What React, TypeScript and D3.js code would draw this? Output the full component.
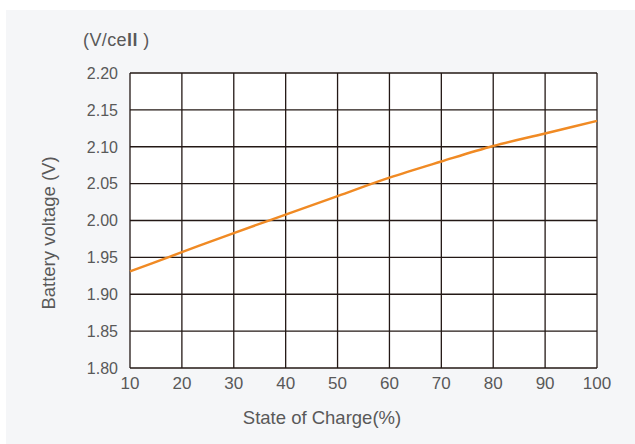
import React from "react";
import * as d3 from "d3";

const soc = [10, 20, 30, 40, 50, 60, 70, 80, 90, 100];
const voltage = [1.931, 1.957, 1.983, 2.008, 2.033, 2.058, 2.080, 2.101, 2.118, 2.135];
const xTicks = [10, 20, 30, 40, 50, 60, 70, 80, 90, 100];
const yTicks = [1.8, 1.85, 1.9, 1.95, 2.0, 2.05, 2.1, 2.15, 2.2];

const W = 635;
const H = 444;
const left = 130, right = 597, top = 73, bottom = 368;

export default function App() {
  const x = d3.scaleLinear().domain([10, 100]).range([left, right]);
  const y = d3.scaleLinear().domain([1.8, 2.2]).range([bottom, top]);
  const line = d3
    .line<number>()
    .x((_, i) => x(soc[i]))
    .y((d) => y(d))
    .curve(d3.curveMonotoneX);
  const font = "Arial, 'Liberation Sans', Helvetica, sans-serif";
  const grid = "#231815";
  const txt = "#595959";
  return (
    <div style={{ position: "absolute", left: 0, top: 0, width: W, height: H, background: "#fff" }}>
      <svg width={W} height={H} style={{ display: "block" }} fontFamily={font}>
        <rect x={6} y={10} width={W - 6} height={H - 10} fill="#f5f6f8" />
        <rect x={left} y={top} width={right - left} height={bottom - top} fill="#fff" />
        {xTicks.map((t) => (
          <line key={"gx" + t} x1={x(t)} x2={x(t)} y1={top} y2={bottom} stroke={grid} strokeWidth={1.3} />
        ))}
        {yTicks.map((t) => (
          <line key={"gy" + t} x1={left} x2={right} y1={y(t)} y2={y(t)} stroke={grid} strokeWidth={1.3} />
        ))}
        <path d={line(voltage) || ""} fill="none" stroke="#f08a24" strokeWidth={2.4} />
        {yTicks.map((t) => (
          <text key={"ty" + t} x={118} y={y(t)} dy="0.36em" textAnchor="end" fontSize={16} fill={txt}>
            {t.toFixed(2)}
          </text>
        ))}
        {xTicks.map((t) => (
          <text key={"tx" + t} x={x(t)} y={389} textAnchor="middle" fontSize={17} fill={txt}>
            {t}
          </text>
        ))}
        <text x={83} y={46} fontSize={18} fill={txt} letterSpacing={0.4}>
          (V/ce<tspan fontWeight="bold">ll</tspan> )
        </text>
        <text x={322} y={424} textAnchor="middle" fontSize={18.5} fill={txt}>State of Charge(%)</text>
        <text
          transform={`translate(55, 233) rotate(-90)`}
          textAnchor="middle"
          fontSize={18.5}
          fill={txt}
        >
          Battery voltage (V)
        </text>
      </svg>
    </div>
  );
}
